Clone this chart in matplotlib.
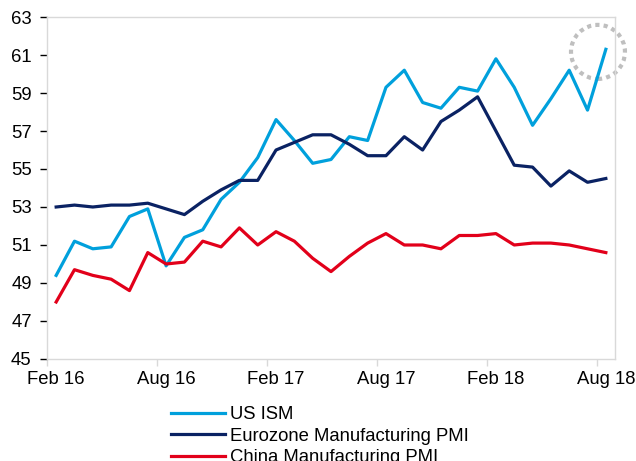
import matplotlib.pyplot as plt
from matplotlib.patches import Ellipse
import numpy as np

plt.rcParams['font.family'] = ['Liberation Sans', 'DejaVu Sans']

# Monthly readings, Feb 2016 to Aug 2018
mois = ['Feb 16', 'Mar 16', 'Apr 16', 'May 16', 'Jun 16', 'Jul 16', 'Aug 16', 'Sep 16',
        'Oct 16', 'Nov 16', 'Dec 16', 'Jan 17', 'Feb 17', 'Mar 17', 'Apr 17', 'May 17',
        'Jun 17', 'Jul 17', 'Aug 17', 'Sep 17', 'Oct 17', 'Nov 17', 'Dec 17', 'Jan 18',
        'Feb 18', 'Mar 18', 'Apr 18', 'May 18', 'Jun 18', 'Jul 18', 'Aug 18']

us_ism = [49.4, 51.2, 50.8, 50.9, 52.5, 52.9, 49.9, 51.4, 51.8, 53.4, 54.3, 55.6, 57.6,
          56.5, 55.3, 55.5, 56.7, 56.5, 59.3, 60.2, 58.5, 58.2, 59.3, 59.1, 60.8, 59.3,
          57.3, 58.7, 60.2, 58.1, 61.3]
eurozone = [53.0, 53.1, 53.0, 53.1, 53.1, 53.2, 52.9, 52.6, 53.3, 53.9, 54.4, 54.4, 56.0,
            56.4, 56.8, 56.8, 56.3, 55.7, 55.7, 56.7, 56.0, 57.5, 58.1, 58.8, 57.0, 55.2,
            55.1, 54.1, 54.9, 54.3, 54.5]
chine = [48.0, 49.7, 49.4, 49.2, 48.6, 50.6, 50.0, 50.1, 51.2, 50.9, 51.9, 51.0, 51.7,
         51.2, 50.3, 49.6, 50.4, 51.1, 51.6, 51.0, 51.0, 50.8, 51.5, 51.5, 51.6, 51.0,
         51.1, 51.1, 51.0, 50.8, 50.6]

x = np.arange(len(mois))
taille = 13.3

fig = plt.figure(figsize=(6.36, 4.61), dpi=100)
ax = fig.add_axes([0.0739, 0.2213, 0.8931, 0.7418])

ax.plot(x, us_ism, color='#00a0dc', lw=2.3, label='US ISM')
ax.plot(x, eurozone, color='#0a2263', lw=2.3, label='Eurozone Manufacturing PMI')
ax.plot(x, chine, color='#e2001a', lw=2.3, label='China Manufacturing PMI')

# Axe des y
ax.set_ylim(45, 63)
ax.set_yticks(range(45, 64, 2))

# Axe des x : etiquettes au centre, graduations entre les mois
ax.set_xlim(-0.5, len(mois) - 0.5)
ax.set_xticks(x[::6])
ax.set_xticklabels(mois[::6])
ax.set_xticks(np.arange(-0.5, len(mois) - 0.5, 6), minor=True)
ax.tick_params(axis='x', which='major', length=0, pad=9)
ax.tick_params(axis='x', which='minor', length=5, color='#d9d9d9', width=1)
ax.tick_params(axis='y', length=5, color='#d9d9d9', width=1, pad=6)
ax.tick_params(labelsize=taille, colors='black')

for s in ax.spines.values():
    s.set_color('#d9d9d9')
    s.set_linewidth(1)

# Cercle pointille autour du dernier point
cercle = Ellipse((0.970, 0.898), 0.095, 0.158, transform=ax.transAxes,
                 fill=False, edgecolor='#bfbfbf', lw=3, linestyle=(0, (1, 1)),
                 clip_on=False)
ax.add_patch(cercle)

fig.legend(loc='upper left', bbox_to_anchor=(0.269, 0.119), frameon=False,
           fontsize=taille, handlelength=2.9, handletextpad=0.3, labelspacing=0.25,
           borderaxespad=0, borderpad=0)

plt.savefig('out.png')
